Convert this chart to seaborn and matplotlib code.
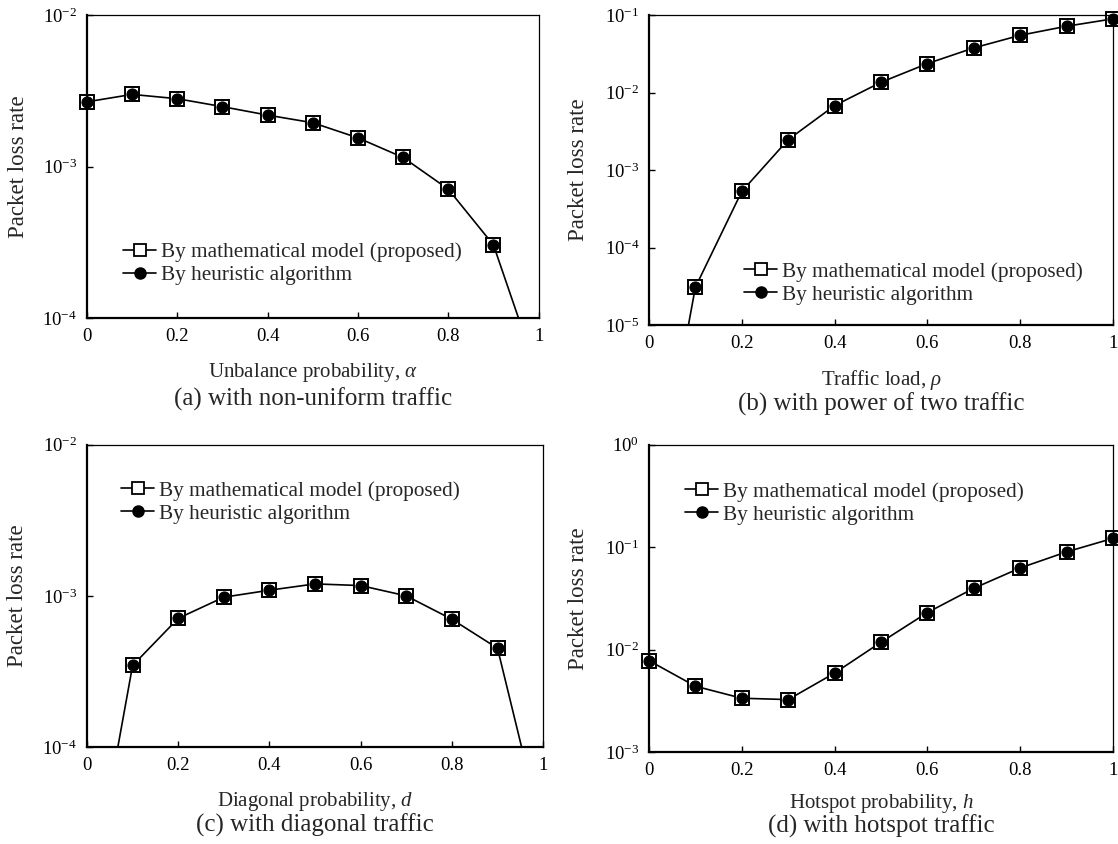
import numpy as np
import matplotlib
matplotlib.use("Agg")
import matplotlib.pyplot as plt
from matplotlib.lines import Line2D
from matplotlib.ticker import FixedLocator, NullLocator, FuncFormatter
import seaborn as sns

# ---- data ----
x_vals = [0.0, 0.1, 0.2, 0.3, 0.4, 0.5, 0.6, 0.7, 0.8, 0.9, 1.0]

# (a) non-uniform traffic
a_model = [2.68e-3, 3.0e-3, 2.81e-3, 2.49e-3, 2.19e-3, 1.95e-3, 1.55e-3, 1.15e-3, 7.1e-4, 3.04e-4, 4.1e-5]
a_heur = [2.68e-3, 3.0e-3, 2.81e-3, 2.49e-3, 2.19e-3, 1.95e-3, 1.55e-3, 1.15e-3, 7.1e-4, 3.04e-4, 4.1e-5]

# (b) power of two traffic
b_model = [1.7e-8, 3.07e-5, 5.3e-4, 2.47e-3, 6.8e-3, 1.36e-2, 2.37e-2, 3.78e-2, 5.5e-2, 7.2e-2, 8.97e-2]
b_heur = [1.7e-8, 3.07e-5, 5.3e-4, 2.47e-3, 6.8e-3, 1.36e-2, 2.37e-2, 3.78e-2, 5.5e-2, 7.2e-2, 8.97e-2]

# (c) diagonal traffic
c_model = [7.4e-6, 3.46e-4, 7.1e-4, 9.8e-4, 1.09e-3, 1.2e-3, 1.17e-3, 1.0e-3, 7.0e-4, 4.5e-4, 2.6e-5]
c_heur = [7.4e-6, 3.46e-4, 7.1e-4, 9.8e-4, 1.09e-3, 1.2e-3, 1.17e-3, 1.0e-3, 7.0e-4, 4.5e-4, 2.6e-5]

# (d) hotspot traffic
d_model = [7.8e-3, 4.39e-3, 3.35e-3, 3.25e-3, 5.9e-3, 1.18e-2, 2.3e-2, 3.97e-2, 6.27e-2, 9.0e-2, 1.22e-1]
d_heur = [7.8e-3, 4.39e-3, 3.35e-3, 3.25e-3, 5.9e-3, 1.18e-2, 2.3e-2, 3.97e-2, 6.27e-2, 9.0e-2, 1.22e-1]

x_ticks = [0, 0.2, 0.4, 0.6, 0.8, 1]
x_tick_labels = ["0", "0.2", "0.4", "0.6", "0.8", "1"]

label_model = "By mathematical model (proposed)"
label_heur = "By heuristic algorithm"

panels = [
    # model, heur, ylim exponents, xlabel, caption, rect, legend anchor, label y, caption y
    (a_model, a_heur, (-4, -2), r"Unbalance probability, $\alpha$", "(a) with non-uniform traffic",
     [0.0778, 0.623, 0.404, 0.359], (0.08, 0.18), -0.18, -0.267),
    (b_model, b_heur, (-5, -1), r"Traffic load, $\rho$", "(b) with power of two traffic",
     [0.5805, 0.615, 0.415, 0.367], (0.205, 0.135), -0.177, -0.255),
    (c_model, c_heur, (-4, -2), r"Diagonal probability, $d$", "(c) with diagonal traffic",
     [0.0778, 0.115, 0.408, 0.358], (0.075, 0.81), -0.179, -0.258),
    (d_model, d_heur, (-3, 0), r"Hotspot probability, $h$", "(d) with hotspot traffic",
     [0.5805, 0.109, 0.415, 0.364], (0.078, 0.81), -0.169, -0.241),
]

sns.set_theme(style="ticks")
plt.rcParams["font.family"] = ["Liberation Serif", "DejaVu Serif"]
plt.rcParams["mathtext.fontset"] = "custom"
plt.rcParams["mathtext.rm"] = "Liberation Serif"
plt.rcParams["mathtext.it"] = "Liberation Serif:italic"

fig = plt.figure(figsize=(11.18, 8.44), dpi=100)

def sci_fmt(v, pos):
    return r"$\mathregular{10^{%d}}$" % int(round(np.log10(v)))

for model, heur, (e_lo, e_hi), xlab, cap, rect, leg_anchor, xlab_y, cap_y in panels:
    ax = fig.add_axes(rect)
    ax.set_yscale("log")
    ylo, yhi = 10.0 ** e_lo, 10.0 ** e_hi

    xs = np.array(x_vals)
    ym = np.array(model)
    yh = np.array(heur)

    # connecting line (clipped at the axes)
    sns.lineplot(x=xs, y=ym, color="black", linewidth=1.2, ax=ax, legend=False)

    # markers for the visible points (not clipped at the frame)
    vis = (ym >= ylo) & (ym <= yhi)
    sns.lineplot(x=xs[vis], y=ym[vis], linestyle="none", marker="s", markersize=10,
                 markerfacecolor="white", markeredgecolor="black", markeredgewidth=1.4,
                 color="black", ax=ax, legend=False, clip_on=False)
    vis = (yh >= ylo) & (yh <= yhi)
    sns.lineplot(x=xs[vis], y=yh[vis], linestyle="none", marker="o", markersize=8,
                 markerfacecolor="black", markeredgecolor="black", color="black",
                 ax=ax, legend=False, clip_on=False)

    ax.set_xlim(0, 1)
    ax.set_ylim(ylo, yhi)
    ax.xaxis.set_major_locator(FixedLocator(x_ticks))
    ax.set_xticklabels(x_tick_labels)
    ax.yaxis.set_major_locator(FixedLocator([10.0 ** e for e in range(e_lo, e_hi + 1)]))
    ax.yaxis.set_minor_locator(NullLocator())
    ax.yaxis.set_major_formatter(FuncFormatter(sci_fmt))
    ax.tick_params(direction="in", length=4, width=1, labelsize=13.5, pad=7, colors="black")

    for side in ["left", "bottom"]:
        ax.spines[side].set_linewidth(1.6)
    for side in ["top", "right"]:
        ax.spines[side].set_linewidth(0.9)
    for sp in ax.spines.values():
        sp.set_color("black")

    ax.set_ylabel("Packet loss rate", fontsize=16.5)
    ax.yaxis.set_label_coords(-0.152, 0.5)
    ax.yaxis.label.set_va("center")
    ax.set_xlabel(xlab, fontsize=15)
    ax.xaxis.set_label_coords(0.5, xlab_y)
    ax.xaxis.label.set_va("center")
    ax.text(0.5, cap_y, cap, transform=ax.transAxes, ha="center", va="center", fontsize=18)

    handles = [
        Line2D([], [], color="black", linewidth=1.2, marker="s", markersize=9,
               markerfacecolor="white", markeredgecolor="black", markeredgewidth=1.3),
        Line2D([], [], color="black", linewidth=1.2, marker="o", markersize=8,
               markerfacecolor="black", markeredgecolor="black"),
    ]
    ax.legend(handles, [label_model, label_heur], loc="center left", bbox_to_anchor=leg_anchor,
              frameon=False, fontsize=15.3, handlelength=1.55, handletextpad=0.25,
              borderpad=0, borderaxespad=0, labelspacing=0.15)

fig.savefig("out.png", dpi=100)
